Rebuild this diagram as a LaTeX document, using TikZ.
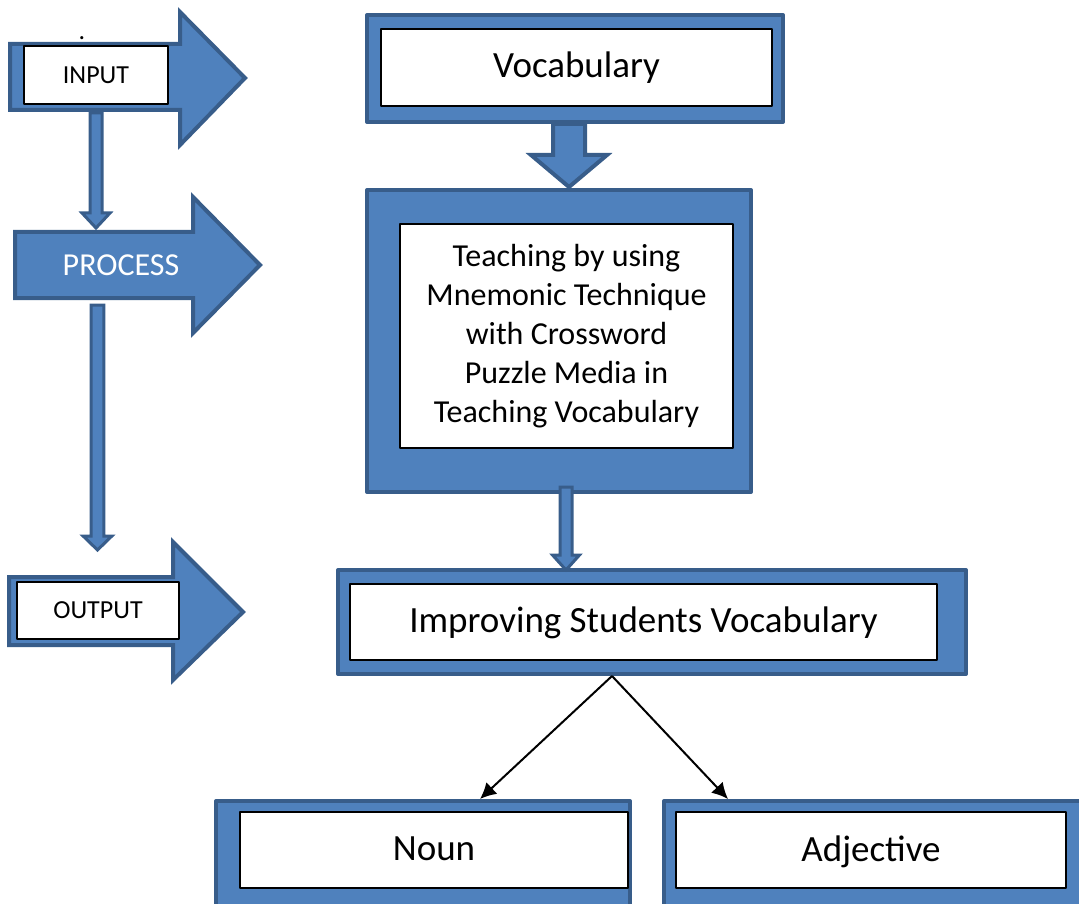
\documentclass[tikz,border=0pt]{standalone}
\usepackage{fontspec}
\setmainfont{Carlito}
\usetikzlibrary{arrows.meta,calc}
\definecolor{boxblue}{HTML}{4F81BD}
\definecolor{edgeblue}{HTML}{385D8A}
\tikzset{
  sz/.style 2 args={minimum width=#1*0.5pt, minimum height=#2*0.5pt},
  outerbox/.style={rectangle, fill=boxblue, draw=edgeblue, line width=2pt, inner sep=0pt},
  innerbox/.style={rectangle, fill=white, draw=black, line width=0.6pt, inner sep=0pt, align=center},
  fatarrow/.style={fill=boxblue, draw=edgeblue, line width=2pt, line join=miter},
  thinarrow/.style={fill=boxblue, draw=edgeblue, line width=1.5pt, line join=miter},
  link/.style={-{Latex[length=8pt,width=8pt]}, line width=1pt},
  smalltxt/.style={font=\fontsize{13}{15}\selectfont},
  midtxt/.style={font=\fontsize{16}{19.5}\selectfont},
  bigtxt/.style={font=\fontsize{18.5}{22}\selectfont}
}
% #1 style, #2 from, #3 to, #4 half shaft, #5 half head, #6 head length
\newcommand{\downblock}[6][thinarrow]{%
  \draw[#1] let \p1=#2, \p2=#3 in
    (\x2-#4,\y1) -- (\x2+#4,\y1) -- (\x2+#4,\y2+#6) -- (\x2+#5,\y2+#6) -- (\x2,\y2)
    -- (\x2-#5,\y2+#6) -- (\x2-#4,\y2+#6) -- cycle;}
\begin{document}
\begin{tikzpicture}[x=0.5pt, y=-0.5pt, line join=round]
  \useasboundingbox (0,0) rectangle (1079,903);
  % left column
  \draw[fatarrow] (10,44) -- (180,44) -- (180,12) -- (245,78) -- (180,145) -- (180,110) -- (10,110) -- cycle;
  \node[innerbox, sz={144}{58}, smalltxt] (input) at (96,75) {INPUT};
  \node[smalltxt, anchor=base] (dot) at (82,40) {.};
  \draw[fatarrow] (15,232) -- (193,232) -- (193,197) -- (260,265) -- (193,333) -- (193,298) -- (15,298) -- cycle;
  \node[midtxt, text=white] (process) at (121,265) {PROCESS};
  \draw[fatarrow] (9,577) -- (173,577) -- (173,542) -- (243,612) -- (173,680) -- (173,645) -- (9,645) -- cycle;
  \node[innerbox, sz={162}{57}, smalltxt] (output) at (98,610.5) {OUTPUT};
  \coordinate (in1) at (96,113);   \coordinate (in2) at (96,228);
  \coordinate (pr1) at (97.5,305); \coordinate (pr2) at (97.5,550);
  \downblock{(in1)}{(in2)}{3pt}{7pt}{7.5pt}
  \downblock{(pr1)}{(pr2)}{3.2pt}{7.2pt}{7pt}
  % right column
  \node[outerbox, sz={416}{107}] (vocab) at (575,68.5) {};
  \node[innerbox, sz={391}{77}, bigtxt, text depth=3pt] (vocabtxt) at (576.5,67.5) {Vocabulary};
  \node[outerbox, sz={384}{302}] (teach) at (559,341) {};
  \node[innerbox, sz={333}{224}, midtxt] (teachtxt) at (566.5,336)
    {Teaching by using\\Mnemonic Technique\\with Crossword\\Puzzle Media in\\Teaching Vocabulary};
  \node[outerbox, sz={628}{104}] (improve) at (652,622) {};
  \node[innerbox, sz={587}{76}, bigtxt, text depth=2pt] (improvetxt) at (643.5,622) {Improving Students Vocabulary};
  \node[outerbox, sz={414}{120}] (noun) at (423,861) {};
  \node[innerbox, sz={388}{76}, bigtxt, text depth=1.5pt] (nountxt) at (434,850) {Noun};
  \node[outerbox, sz={426}{120}] (adj) at (877,861) {};
  \node[innerbox, sz={390}{76}, bigtxt, text depth=1.5pt] (adjtxt) at (871,850) {Adjective};
  \coordinate (v1) at (569,124); \coordinate (v2) at (569,187);
  \downblock[fatarrow]{(v1)}{(v2)}{8pt}{19pt}{16pt}
  \coordinate (t1) at (566,487); \coordinate (t2) at (566,570);
  \downblock{(t1)}{(t2)}{3pt}{6.75pt}{7.5pt}
  \coordinate (split) at ($(improve.south)+(-40,0)$);
  \coordinate (nountop) at ($(noun.north)+(57,0)$);
  \coordinate (adjtop) at ($(adj.north)+(-149,0)$);
  \draw[link] (split) -- (nountop);
  \draw[link] (split) -- (adjtop);
\end{tikzpicture}
\end{document}
